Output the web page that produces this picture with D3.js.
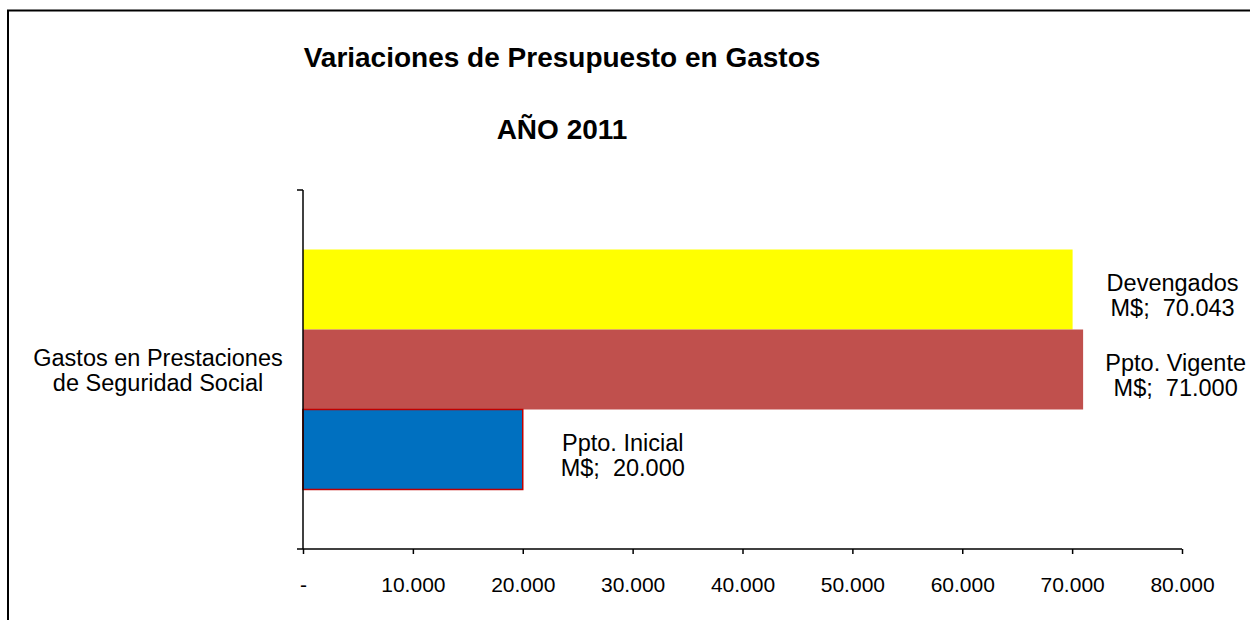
<!DOCTYPE html>
<html>
<head>
<meta charset="utf-8">
<script src="https://cdn.jsdelivr.net/npm/d3@7"></script>
<style>
  body { margin: 0; background: #fff; }
  text { font-family: Arial, "Liberation Sans", sans-serif; fill: #000; white-space: pre; }
</style>
</head>
<body>
<script>
// chart data
const categories = ["Gastos en Prestaciones|de Seguridad Social"];
const seriesNames = ["Devengados", "Ppto. Vigente", "Ppto. Inicial"];
const seriesValues = [70043, 71000, 20000];
const seriesColors = ["#FFFF00", "#C0504D", "#0070C0"];
const xTicks = [0, 10000, 20000, 30000, 40000, 50000, 60000, 70000, 80000];
const titleLines = ["Variaciones de Presupuesto en Gastos", "AÑO 2011"];

const width = 1250, height = 620;
const margin = { top: 190, right: 68, bottom: 71, left: 303 };

const svg = d3.select("body").append("svg")
    .attr("width", width)
    .attr("height", height);

// outer frame (runs off right and bottom edges)
svg.append("rect")
    .attr("x", 8).attr("y", 10.5)
    .attr("width", 1300).attr("height", 700)
    .attr("fill", "none")
    .attr("stroke", "#000")
    .attr("stroke-width", 2);

const locale = d3.formatLocale({ decimal: ",", thousands: ".", grouping: [3], currency: ["", ""] });
const fmt = locale.format(",.0f");

const x = d3.scaleLinear()
    .domain([0, 80000])
    .range([margin.left, width - margin.right]);

const y0 = d3.scaleBand()
    .domain(categories)
    .range([margin.top, height - margin.bottom])
    .paddingInner(0)
    .paddingOuter(0.248);

const y1 = d3.scaleBand()
    .domain(seriesNames)
    .range([0, y0.bandwidth()]);

const bars = seriesNames.map((name, i) => ({ name, value: seriesValues[i], color: seriesColors[i] }));

// titles
svg.selectAll("text.title")
    .data(titleLines)
    .enter()
    .append("text")
    .attr("class", "title")
    .attr("x", 562)
    .attr("y", (d, i) => i === 0 ? 67 : 139)
    .attr("text-anchor", "middle")
    .style("font-size", "28px")
    .style("font-weight", "bold")
    .text(d => d);

// bars
categories.forEach(cat => {
    const g = svg.append("g").attr("transform", `translate(0,${y0(cat)})`);

    g.selectAll("rect")
        .data(bars)
        .enter()
        .append("rect")
        .attr("x", x(0))
        .attr("y", d => y1(d.name))
        .attr("width", d => x(d.value) - x(0))
        .attr("height", y1.bandwidth())
        .attr("fill", d => d.color)
        .attr("stroke", d => d.name === "Ppto. Inicial" ? "#C00000" : "none")
        .attr("stroke-width", 1.5);

    // data labels
    const labels = g.selectAll("text.lbl")
        .data(bars)
        .enter()
        .append("text")
        .attr("class", "lbl")
        .attr("text-anchor", "middle")
        .style("font-size", "23.5px");

    labels.append("tspan")
        .attr("x", 0)
        .attr("y", d => y1(d.name) + y1.bandwidth() / 2 + 2)
        .text(d => d.name);
    labels.append("tspan")
        .attr("x", 0)
        .attr("y", d => y1(d.name) + y1.bandwidth() / 2 + 27)
        .text(d => "M$;  " + fmt(d.value));

    // place label after bar end, kept inside the frame
    labels.each(function(d) {
        const w = this.getBBox().width;
        const cx = Math.min(x(d.value) + 100, 1246 - w / 2);
        d3.select(this).selectAll("tspan").attr("x", cx);
    });
});

// x axis
const xAxis = svg.append("g")
    .attr("transform", `translate(0,${height - margin.bottom})`)
    .call(d3.axisBottom(x)
        .tickValues(xTicks)
        .tickSize(5)
        .tickPadding(23)
        .tickFormat(d => d === 0 ? "-" : fmt(d)));
xAxis.select(".domain").attr("stroke", "#000").attr("stroke-width", 1.5)
    .attr("d", `M${x(0)},0H${x(80000)}`);
xAxis.selectAll(".tick line").attr("stroke", "#000").attr("stroke-width", 1.5);
xAxis.selectAll(".tick text")
    .style("font-size", "21px")
    .style("font-family", "Arial, 'Liberation Sans', sans-serif")
    .attr("fill", "#000");

// y axis: category boundaries as ticks
const yAxis = svg.append("g")
    .attr("transform", `translate(${x(0)},0)`);
yAxis.append("line")
    .attr("x1", 0).attr("x2", 0)
    .attr("y1", margin.top).attr("y2", height - margin.bottom)
    .attr("stroke", "#000").attr("stroke-width", 1.5);
yAxis.selectAll("line.tk")
    .data([margin.top, height - margin.bottom])
    .enter()
    .append("line")
    .attr("class", "tk")
    .attr("x1", -6).attr("x2", 0)
    .attr("y1", d => d).attr("y2", d => d)
    .attr("stroke", "#000").attr("stroke-width", 1.5);

// category label
categories.forEach(cat => {
    const lines = cat.split("|");
    const cy = y0(cat) + y0.bandwidth() / 2;
    svg.append("text")
        .attr("text-anchor", "middle")
        .style("font-size", "23.5px")
        .selectAll("tspan")
        .data(lines)
        .enter()
        .append("tspan")
        .attr("x", x(0) - 145)
        .attr("y", (d, i) => cy - 4 + i * 25)
        .text(d => d);
});
</script>
</body>
</html>
